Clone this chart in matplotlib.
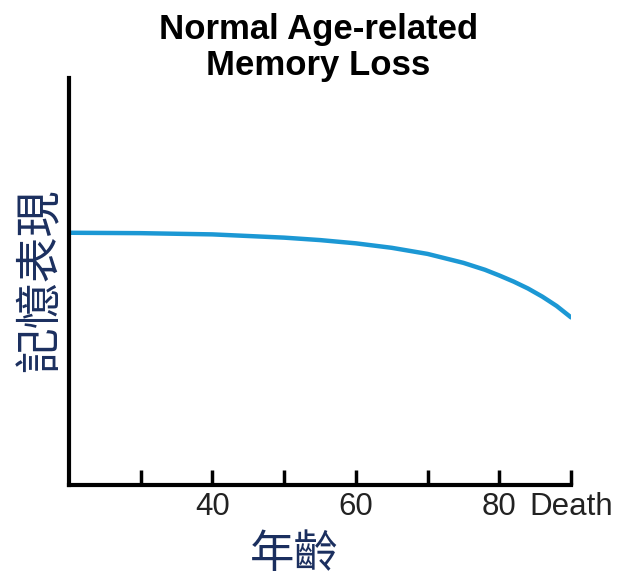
import numpy as np
import matplotlib
matplotlib.use("Agg")
import matplotlib.pyplot as plt

# values
ages = [20, 30, 40, 50, 55, 60, 65, 70, 75, 78, 80, 82, 84, 86, 88, 90]
memory = [62.0, 61.9, 61.6, 60.8, 60.2, 59.4, 58.3, 56.8, 54.6, 52.9, 51.5,
          50.0, 48.3, 46.3, 44.0, 41.2]
tick_pos = [30, 40, 50, 60, 70, 80, 90]
tick_labels = ["", "40", "", "60", "", "80", "Death"]

title = "Normal Age-related\nMemory Loss"
ylabel = "記憶表現"
xlabel = "年齡"

navy = "#1b2f5f"
line_blue = "#1c98d4"

fig = plt.figure(figsize=(6.18, 5.83), dpi=100)
ax = fig.add_axes([0.1117, 0.168, 0.8123, 0.698])

ax.plot(ages, memory, color=line_blue, linewidth=3.2, solid_capstyle="round",
        solid_joinstyle="round")

ax.set_xlim(20, 90)
ax.set_ylim(0, 100)

for side in ["top", "right"]:
    ax.spines[side].set_visible(False)
for side in ["left", "bottom"]:
    ax.spines[side].set_linewidth(3)
    ax.spines[side].set_color("black")

ax.set_xticks(tick_pos)
ax.set_xticklabels(tick_labels, family=["Liberation Sans", "DejaVu Sans"],
                   fontsize=22.5, color="#222222")
ax.tick_params(axis="x", direction="in", length=11, width=2.5, pad=5,
               color="black")
ax.set_yticks([])

fig.text(0.515, 0.978, title, ha="center", va="top", fontsize=25,
         fontweight="bold", linespacing=1.12,
         family=["Liberation Sans", "DejaVu Sans"])

fig.text(0.065, 0.52, ylabel, rotation=90, ha="center", va="center",
         fontsize=33, color=navy,
         family=["Noto Sans CJK TC", "DejaVu Sans"])
fig.text(0.477, 0.05, xlabel, ha="center", va="center",
         fontsize=32, color=navy,
         family=["Noto Sans CJK TC", "DejaVu Sans"])

fig.savefig("out.png", dpi=100, facecolor="white")
